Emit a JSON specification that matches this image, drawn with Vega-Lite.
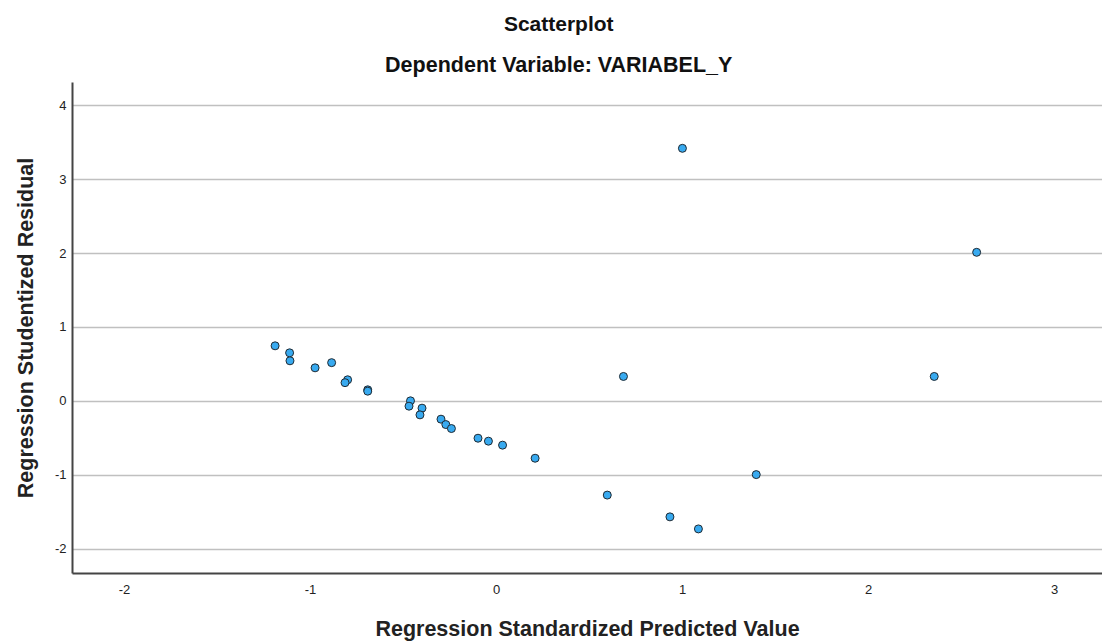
{
  "$schema": "https://vega.github.io/schema/vega-lite/v6.json",
  "autosize": {"type": "none"},
  "padding": {"left": 72, "top": 82, "right": 0, "bottom": 69},
  "width": 1030,
  "height": 491,
  "background": "white",
  "title": {
    "text": "Scatterplot",
    "subtitle": "Dependent Variable: VARIABEL_Y",
    "anchor": "middle",
    "frame": "bounds",
    "font": "Liberation Sans",
    "fontSize": 21,
    "fontWeight": "bold",
    "color": "#111111",
    "subtitleFont": "Liberation Sans",
    "subtitleFontSize": 21.5,
    "subtitleFontWeight": "bold",
    "subtitleColor": "#111111",
    "subtitlePadding": 20,
    "offset": 6
  },
  "data": {
    "values": [
      {"pred": -1.188, "resid": 0.745},
      {"pred": -1.110, "resid": 0.650},
      {"pred": -1.108, "resid": 0.542},
      {"pred": -0.973, "resid": 0.447},
      {"pred": -0.884, "resid": 0.517},
      {"pred": -0.798, "resid": 0.285},
      {"pred": -0.812, "resid": 0.246},
      {"pred": -0.690, "resid": 0.149},
      {"pred": -0.690, "resid": 0.131},
      {"pred": -0.460, "resid": 0.000},
      {"pred": -0.468, "resid": -0.072},
      {"pred": -0.398, "resid": -0.099},
      {"pred": -0.409, "resid": -0.190},
      {"pred": -0.296, "resid": -0.248},
      {"pred": -0.270, "resid": -0.321},
      {"pred": -0.240, "resid": -0.375},
      {"pred": -0.097, "resid": -0.506},
      {"pred": -0.041, "resid": -0.546},
      {"pred": 0.035, "resid": -0.600},
      {"pred": 0.210, "resid": -0.777},
      {"pred": 0.598, "resid": -1.276},
      {"pred": 0.935, "resid": -1.571},
      {"pred": 1.088, "resid": -1.734},
      {"pred": 0.685, "resid": 0.330},
      {"pred": 1.002, "resid": 3.419},
      {"pred": 1.399, "resid": -0.999},
      {"pred": 2.356, "resid": 0.330},
      {"pred": 2.584, "resid": 2.011}
    ]
  },
  "mark": {
    "type": "point",
    "shape": "circle",
    "filled": true,
    "size": 64,
    "fill": "#38aaf0",
    "stroke": "#1f2a33",
    "strokeWidth": 1,
    "opacity": 1
  },
  "encoding": {
    "x": {
      "field": "pred",
      "type": "quantitative",
      "title": "Regression Standardized Predicted Value",
      "scale": {"domain": [-2.28, 3.258], "nice": false, "zero": false},
      "axis": {
        "values": [-2, -1, 0, 1, 2, 3],
        "labelExpr": "'' + datum.value",
        "grid": false,
        "ticks": false,
        "labelPadding": 10,
        "titlePadding": 22
      }
    },
    "y": {
      "field": "resid",
      "type": "quantitative",
      "title": "Regression Studentized Residual",
      "scale": {"domain": [-2.331, 4.317], "nice": false, "zero": false},
      "axis": {
        "values": [-2, -1, 0, 1, 2, 3, 4],
        "labelExpr": "'' + datum.value",
        "grid": true,
        "ticks": false,
        "labelPadding": 6,
        "titlePadding": 17
      }
    }
  },
  "config": {
    "view": {"stroke": null},
    "axis": {
      "domainColor": "#444444",
      "domainWidth": 2,
      "gridColor": "#c0c0c0",
      "gridWidth": 1.5,
      "labelFont": "Liberation Sans",
      "labelFontSize": 13,
      "labelColor": "#222222",
      "titleFont": "Liberation Sans",
      "titleFontSize": 21.5,
      "titleFontWeight": "bold",
      "titleColor": "#222222"
    }
  }
}
